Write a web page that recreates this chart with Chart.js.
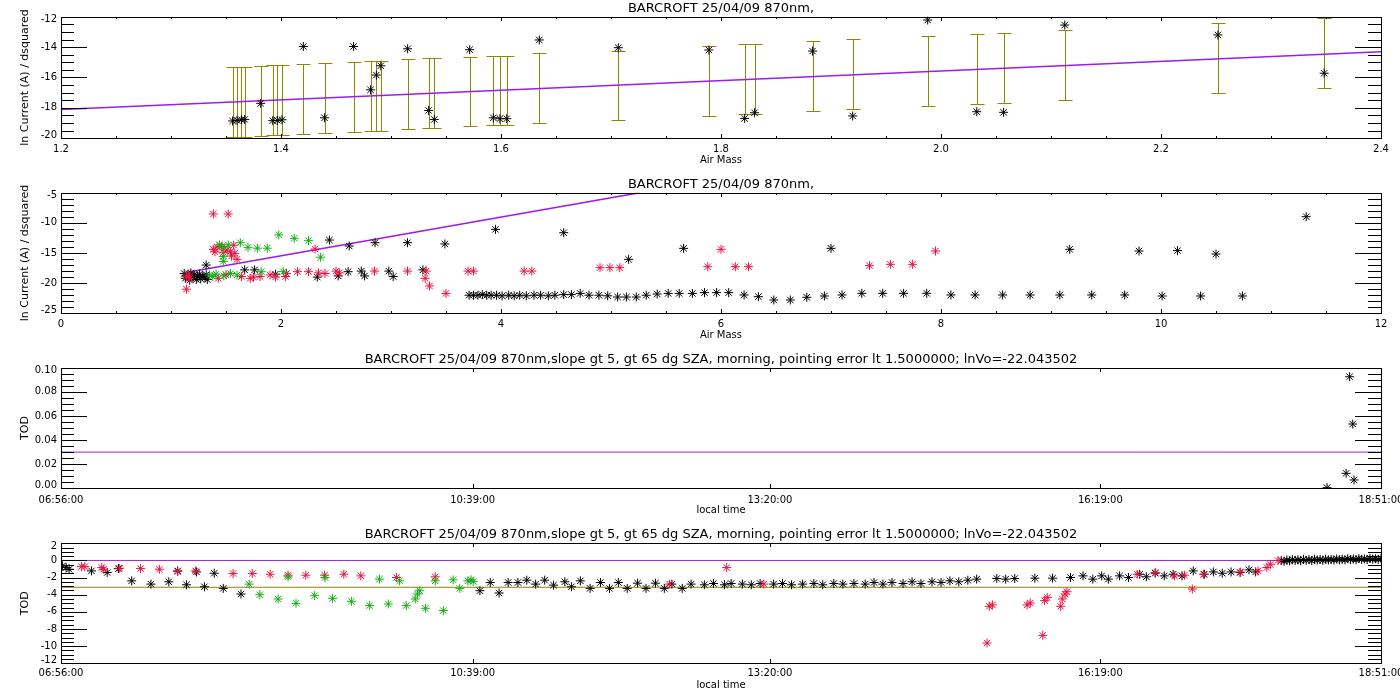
<!DOCTYPE html>
<html lang="en">
<head>
<meta charset="UTF-8">
<title>BARCROFT 25/04/09 870nm</title>
<script src="https://cdn.jsdelivr.net/npm/chart.js"></script>
<style>
  body { margin: 0; background: #fff; }
  #wrap { position: relative; width: 1400px; height: 700px; overflow: hidden; background: #fff; }
  #wrap canvas { position: absolute; left: 0; }
</style>
</head>
<body>
<div id="wrap">
  <canvas id="c1" width="1400" height="172" style="top:0px"></canvas>
  <canvas id="c2" width="1400" height="173" style="top:172px"></canvas>
  <canvas id="c3" width="1400" height="170" style="top:345px"></canvas>
  <canvas id="c4" width="1400" height="185" style="top:515px"></canvas>
</div>
<script>
// ---------- data ----------
var titleShort = 'BARCROFT 25/04/09 870nm,';
var titleLong = 'BARCROFT 25/04/09 870nm,slope gt 5, gt 65 dg SZA, morning, pointing error lt 1.5000000; lnVo=-22.043502';

// panel 1: air mass vs ln current, stars + fit + error bars
var p1X = [1.356, 1.360, 1.364, 1.367, 1.3815, 1.3925, 1.3966, 1.4009, 1.4203, 1.4396, 1.466, 1.4814, 1.4867, 1.4907,
  1.5151, 1.5342, 1.5394, 1.5715, 1.593, 1.599, 1.6052, 1.6348, 1.7066, 1.789, 1.8215, 1.8305, 1.8832, 1.9197,
  1.9879, 2.0325, 2.0569, 2.1125, 2.2517, 2.3483];
var p1Y = [-18.86, -18.82, -18.78, -18.76, -17.70, -18.84, -18.82, -18.78, -13.96, -18.65, -13.96, -16.81, -15.84, -15.23,
  -14.11, -18.17, -18.76, -14.17, -18.65, -18.71, -18.71, -13.53, -14.04, -14.19, -18.69, -18.32, -14.26, -18.53,
  -12.22, -18.25, -18.29, -12.55, -13.20, -15.72];
var p1ErrHi = [-15.33, -15.33, -15.33, -15.33, -15.24, -15.18, -15.18, -15.18, -15.11, -15.07, -15.00, -14.93, -14.93, -14.93,
  -14.80, -14.74, -14.74, -14.67, -14.57, -14.57, -14.57, -14.41, -14.24, -13.93, -13.82, -13.82, -13.60, -13.49,
  -13.27, -13.16, -13.09, -12.88, -12.44, -12.10];
var p1ErrLo = [-19.93, -19.93, -19.93, -19.93, -19.85, -19.80, -19.80, -19.80, -19.72, -19.67, -19.60, -19.52, -19.52, -19.52,
  -19.41, -19.34, -19.34, -19.19, -19.15, -19.15, -19.15, -19.01, -18.80, -18.53, -18.42, -18.42, -18.20, -18.07,
  -17.88, -17.76, -17.70, -17.48, -17.04, -16.71];
var p1FitX = [1.2, 2.4];
var p1FitY = [-18.10, -14.31];
var p1XTicks = [1.2, 1.4, 1.6, 1.8, 2.0, 2.2, 2.4];
var p1XLabels = ['1.2', '1.4', '1.6', '1.8', '2.0', '2.2', '2.4'];
var p1YTicks = [-20, -18, -16, -14, -12];
var p1YLabels = ['-20', '-18', '-16', '-14', '-12'];

// panel 2: all air masses
var p2BlackX = [1.12, 1.13, 1.15, 1.17, 1.18, 1.20, 1.21, 1.23, 1.24, 1.26, 1.27, 1.29, 1.31, 1.32, 1.33, 1.32,
  1.67, 1.76, 1.95, 2.33, 2.52, 2.61, 2.73, 2.76, 2.98, 3.02, 3.29,
  2.44, 2.62, 2.855, 3.15, 3.49, 3.95, 4.57, 5.16, 5.66, 7.00, 9.17, 9.80, 10.15, 10.50, 11.32,
  3.71, 3.75, 3.79, 3.83, 3.87, 3.91, 3.96, 4.01, 4.07, 4.12, 4.17, 4.23, 4.30, 4.36, 4.43, 4.49, 4.57, 4.64, 4.72,
  4.80, 4.89, 4.97, 5.06, 5.14, 5.23, 5.32, 5.42, 5.52, 5.62, 5.74,
  5.85, 5.96, 6.07, 6.21, 6.34, 6.48, 6.63, 6.78, 6.94, 7.10, 7.28, 7.47, 7.66, 7.87, 8.09, 8.31, 8.56, 8.81, 9.08,
  9.37, 9.67, 10.01, 10.36, 10.74];
var p2BlackY = [-18.4, -19.2, -18.8, -19.5, -18.3, -19.0, -18.6, -19.4, -18.9, -18.5, -19.3, -18.8, -19.1, -18.6, -19.4, -17.0,
  -17.8, -17.8, -18.5, -19.0, -18.8, -18.1, -18.0, -18.8, -18.0, -18.9, -17.8,
  -12.85, -13.84, -13.29, -13.29, -13.50, -11.08, -11.63, -16.05, -14.23, -14.23, -14.39, -14.67, -14.61, -15.17, -8.98,
  -22.0, -22.0, -22.0, -21.9, -22.0, -22.0, -22.0, -22.1, -22.0, -22.1, -22.0, -22.1, -22.0, -22.0, -22.1, -22.0, -21.9, -21.9, -21.7,
  -22.0, -22.0, -22.1, -22.3, -22.3, -22.3, -22.0, -21.8, -21.7, -21.7, -21.7,
  -21.57, -21.57, -21.57, -21.96, -22.24, -22.79, -22.79, -22.35, -22.13, -21.96, -21.69, -21.69, -21.69, -21.69, -21.96,
  -21.96, -21.96, -21.96, -21.96, -21.96, -21.96, -22.13, -22.13, -22.13];
var p2RedX = [1.14, 1.14, 1.16, 1.17, 1.385, 1.52, 1.385, 1.40, 1.42, 1.46, 1.475, 1.51, 1.54, 1.57, 1.58, 1.60, 1.55,
  1.43, 1.50, 1.64, 1.72, 1.75, 1.81, 1.90, 1.95, 2.04, 2.05, 2.15, 2.25, 2.31, 2.34, 2.40, 2.50, 2.53, 2.85, 3.15,
  3.32, 3.31, 3.35, 3.50, 3.70, 3.75, 4.21, 4.28, 4.90, 4.99, 5.08, 5.88, 6.00, 6.13, 6.25, 7.35, 7.54, 7.74, 7.95];
var p2RedY = [-21.0, -18.9, -18.5, -19.2, -8.53, -8.53, -14.4, -14.8, -14.0, -13.95, -14.95, -14.5, -14.8, -13.7, -15.05, -16.05, -15.5,
  -19.2, -18.6, -18.9, -19.2, -19.0, -18.9, -18.65, -19.0, -18.9, -18.4, -18.1, -18.1, -14.34, -18.3, -18.4, -18.0, -18.3, -18.0, -18.0,
  -18.0, -19.2, -20.47, -21.7, -18.0, -18.0, -18.0, -18.0, -17.43, -17.43, -17.43, -17.27, -14.39, -17.27, -17.27, -17.1, -16.88, -16.88, -14.67];
var p2GreenX = [1.35, 1.38, 1.41, 1.44, 1.47, 1.475, 1.475, 1.48, 1.52, 1.54, 1.60, 1.63, 1.70, 1.785, 1.82, 1.875,
  1.98, 2.02, 2.12, 2.25, 2.36];
var p2GreenY = [-18.65, -18.9, -18.5, -13.67, -14.0, -15.6, -16.4, -18.8, -13.67, -18.4, -18.65, -13.3, -14.06, -14.2, -18.1, -14.2,
  -12.0, -18.1, -12.57, -12.96, -15.7];
var p2FitX = [1.15, 5.26];
var p2FitY = [-18.2, -5.0];
var p2XTicks = [0, 2, 4, 6, 8, 10, 12];
var p2XLabels = ['0', '2', '4', '6', '8', '10', '12'];
var p2YTicks = [-25, -20, -15, -10, -5];
var p2YLabels = ['-25', '-20', '-15', '-10', '-5'];

// time axes (minutes after midnight)
var timeTicks = [416, 639, 800, 979, 1131];
var timeLabels = ['06:56:00', '10:39:00', '13:20:00', '16:19:00', '18:51:00'];

// panel 3: TOD, small range
var p3T = [1101.8, 1112.1, 1114.0, 1115.7, 1116.4];
var p3Y = [0.0005, 0.0124, 0.0925, 0.0533, 0.0069];
var p3LineY = 0.03;
var p3YTicks = [0, 0.02, 0.04, 0.06, 0.08, 0.10];
var p3YLabels = ['0.00', '0.02', '0.04', '0.06', '0.08', '0.10'];

// panel 4: TOD, full day
var p4BlackT = [416.8, 418.8, 420.4, 432.5, 441.0, 447.1, 454.3, 464.7, 474.4, 479.2, 484.0, 489.4, 493.7, 499.0, 503.9, 513.5,
  642.9, 648.5, 653.3, 658.2, 663.5, 668.3, 673.1, 678.0, 682.8, 688.9, 692.5, 697.3, 702.6, 708.2, 713.1, 717.9, 722.7,
  728.3, 732.9, 738.0, 742.8, 746.9, 752.5, 757.3, 764.5, 769.4, 775.4, 779.0, 785.1, 789.9, 794.7, 802.0, 806.8, 811.7,
  817.7, 823.8, 828.6, 834.6, 839.5, 845.5, 851.6, 856.4, 861.2, 866.1, 872.1, 877.0, 881.8, 887.8, 892.7, 897.5, 902.3,
  907.2, 912.0, 922.9, 927.7, 932.6, 943.5, 953.1, 962.8, 969.6, 974.9, 979.7, 983.3, 989.4, 994.2, 1000.3, 1003.9,
  1008.7, 1013.6, 1018.4, 1023.2, 1029.3, 1035.3, 1040.2, 1045.0, 1049.8, 1054.7, 1059.5, 1063.1,
  1077.0, 1078.5, 1080.0, 1081.5, 1083.0, 1084.5, 1086.0, 1087.5, 1089.0, 1090.5, 1092.0, 1093.5, 1095.0, 1096.5,
  1098.0, 1099.5, 1101.0, 1102.5, 1104.0, 1105.5, 1107.0, 1108.5, 1110.0, 1111.5, 1113.0, 1114.5, 1116.0, 1117.5,
  1119.0, 1120.5, 1122.0, 1123.5, 1125.0, 1126.5, 1128.0, 1129.5, 1131.0];
var p4BlackY = [-0.64, -0.83, -1.03, -1.22, -1.41, -0.95, -2.38, -2.76, -2.49, -1.22, -2.84, -1.34, -3.07, -1.49, -3.26, -3.92,
  -3.53, -2.57, -3.80, -2.57, -2.57, -2.30, -2.76, -2.30, -2.88, -2.49, -3.07, -2.38, -3.26, -2.57, -3.26, -2.57, -3.26,
  -2.65, -3.26, -2.65, -3.26, -2.76, -3.26, -2.76, -2.84, -2.69, -2.84, -2.69, -2.76, -2.84, -2.69, -2.76, -2.69, -2.84,
  -2.76, -2.69, -2.84, -2.69, -2.76, -2.69, -2.76, -2.57, -2.76, -2.57, -2.69, -2.49, -2.69, -2.49, -2.57, -2.38, -2.49,
  -2.30, -2.18, -2.11, -2.18, -2.11, -2.07, -2.07, -1.99, -1.80, -2.18, -1.80, -2.18, -1.80, -1.99, -1.61, -1.91,
  -1.49, -1.80, -1.61, -1.80, -1.22, -1.61, -1.34, -1.49, -1.34, -1.41, -1.10, -1.34,
  0.00, -0.10, 0.05, -0.05, 0.10, 0.00, 0.08, -0.04, 0.12, 0.02, 0.10, -0.02, 0.14, 0.05, 0.10, 0.02, 0.15, 0.06,
  0.12, 0.04, 0.18, 0.08, 0.14, 0.06, 0.20, 0.10, 0.16, 0.08, 0.22, 0.12, 0.18, 0.10, 0.24, 0.14, 0.20, 0.12, 0.22];
var p4RedT = [427.0, 428.9, 438.1, 439.1, 447.8, 459.1, 469.3, 479.2, 488.9, 509.2, 519.6, 529.3, 539.0, 548.6, 558.8,
  569.2, 578.4, 597.7, 618.7, 745.7, 776.6, 796.7, 917.6, 918.8, 920.5, 939.3, 941.0, 947.8, 948.8, 950.2, 957.5,
  958.4, 959.9, 960.9, 999.0, 1008.7, 1019.1, 1024.5, 1028.8, 1034.9, 1054.7, 1064.4, 1069.2, 1071.1, 1075.2];
var p4RedY = [-0.72, -0.72, -0.83, -1.03, -0.91, -0.95, -1.03, -1.30, -1.22, -1.53, -1.53, -1.61, -1.72, -1.72, -1.72,
  -1.61, -1.80, -1.99, -1.91, -2.76, -0.83, -2.76, -9.63, -5.35, -5.19, -5.19, -4.96, -8.74, -4.69, -4.31, -5.35,
  -4.50, -3.92, -3.65, -1.61, -1.41, -1.80, -1.72, -3.34, -1.61, -1.34, -1.22, -0.83, -0.45, -0.01];
var p4GreenT = [517.9, 523.7, 533.6, 543.3, 553.4, 563.1, 573.3, 583.2, 593.3, 603.0, 607.9, 609.1, 610.3, 613.4, 623.1,
  539.0, 559.0, 588.5, 599.4, 618.7, 628.4, 632.0, 636.4, 638.1, 639.3];
var p4GreenY = [-2.76, -4.00, -4.50, -5.00, -4.11, -4.42, -4.77, -5.27, -5.08, -5.27, -4.50, -3.92, -3.53, -5.58, -5.85,
  -1.91, -1.99, -2.18, -2.38, -2.38, -2.26, -3.26, -2.38, -2.26, -2.45];
var p4ZeroY = 0;
var p4MeanY = -3.13;
var p4YTicks = [-12, -10, -8, -6, -4, -2, 0, 2];
var p4YLabels = ['-12', '-10', '-8', '-6', '-4', '-2', '0', '2'];

// ---------- colours ----------
var BLACK = '#000000', RED = '#ec1140', GREEN = '#16ac16', PURPLE = '#9c1cf0', OLIVE = '#8c8a00';
var FONT = '"DejaVu Sans", sans-serif';

function pts(xs, ys) {
  return xs.map(function (x, i) { return { x: x, y: ys[i] }; });
}
function minorTicks(min, max, step) {
  var out = [];
  var n = Math.round((max - min) / step);
  for (var i = 0; i <= n; i++) out.push(min + i * step);
  return out;
}
function stars(xs, ys, color, order) {
  return {
    data: pts(xs, ys), pointStyle: 'star', pointRadius: 4.5, pointHoverRadius: 4.5,
    borderColor: color, backgroundColor: color, pointBorderWidth: 1, showLine: false, order: order
  };
}
function line(xs, ys, color, width) {
  return {
    data: pts(xs, ys), showLine: true, pointRadius: 0, borderColor: color,
    borderWidth: width, fill: false, tension: 0, order: 10
  };
}

// IDL style frame: box, inward ticks on all four sides, labels and titles
function idlFrame(cfg) {
  return {
    id: 'idlFrame',
    afterDraw: function (chart) {
      var ctx = chart.ctx, a = chart.chartArea;
      var xs = chart.scales.x, ys = chart.scales.y;
      var L = Math.round(a.left), R = Math.round(a.right), T = Math.round(a.top), B = Math.round(a.bottom);
      ctx.save();
      ctx.strokeStyle = '#000';
      ctx.fillStyle = '#000';
      ctx.lineWidth = 1;
      function seg(x1, y1, x2, y2) { ctx.beginPath(); ctx.moveTo(x1, y1); ctx.lineTo(x2, y2); ctx.stroke(); }
      ctx.strokeRect(L + 0.5, T + 0.5, R - L, B - T);
      function yTick(v, len) {
        var p = Math.round(ys.getPixelForValue(v)) + 0.5;
        seg(L, p, L + len, p);
        seg(R, p, R - len, p);
      }
      function xTick(v, len) {
        var p = Math.round(xs.getPixelForValue(v)) + 0.5;
        seg(p, B, p, B - len);
        seg(p, T, p, T + len);
      }
      cfg.yMinor.forEach(function (v) { yTick(v, 13); });
      cfg.yMajor.forEach(function (v) { yTick(v, 26); });
      cfg.xMinor.forEach(function (v) { xTick(v, 2); });
      cfg.xMajor.forEach(function (v) { xTick(v, 4); });

      ctx.font = '10px ' + FONT;
      ctx.textAlign = 'right';
      ctx.textBaseline = 'middle';
      cfg.yMajor.forEach(function (v, i) {
        var p = ys.getPixelForValue(v);
        if (Math.abs(p - a.top) < 1) p += 3;
        if (Math.abs(p - a.bottom) < 1) p -= 3;
        ctx.fillText(cfg.yLabels[i], L - 4, p);
      });
      ctx.textAlign = 'center';
      cfg.xMajor.forEach(function (v, i) {
        ctx.fillText(cfg.xLabels[i], xs.getPixelForValue(v), a.bottom + cfg.xLabelDy);
      });
      ctx.fillText(cfg.xTitle, (a.left + a.right) / 2, a.bottom + 22.5);
      ctx.save();
      ctx.font = '11px ' + FONT;
      ctx.translate(25, (a.top + a.bottom) / 2);
      ctx.rotate(-Math.PI / 2);
      ctx.fillText(cfg.yTitle, 0, 0);
      ctx.restore();
      ctx.font = '13px ' + FONT;
      ctx.fillText(cfg.title, (a.left + a.right) / 2, a.top - 8.5);
      ctx.restore();
    }
  };
}

// vertical error bars with caps, drawn under the points
function errorBars(xs0, lo, hi, color) {
  return {
    id: 'errorBars',
    beforeDatasetsDraw: function (chart) {
      var ctx = chart.ctx, xs = chart.scales.x, ys = chart.scales.y;
      ctx.save();
      ctx.strokeStyle = color;
      ctx.lineWidth = 1;
      xs0.forEach(function (x, i) {
        var px = Math.round(xs.getPixelForValue(x)) + 0.5;
        var p1 = Math.round(ys.getPixelForValue(hi[i])) + 0.5;
        var p2 = Math.round(ys.getPixelForValue(lo[i])) + 0.5;
        ctx.beginPath();
        ctx.moveTo(px, p1); ctx.lineTo(px, p2);
        ctx.moveTo(px - 7, p1); ctx.lineTo(px + 7, p1);
        ctx.moveTo(px - 7, p2); ctx.lineTo(px + 7, p2);
        ctx.stroke();
      });
      ctx.restore();
    }
  };
}

function makeChart(id, datasets, xr, yr, pad, plugins) {
  return new Chart(document.getElementById(id), {
    type: 'scatter',
    data: { datasets: datasets },
    options: {
      responsive: false,
      animation: false,
      events: [],
      layout: { padding: { left: 61, right: 19, top: pad[0], bottom: pad[1] } },
      plugins: { legend: { display: false }, tooltip: { enabled: false }, title: { display: false } },
      scales: {
        x: { type: 'linear', min: xr[0], max: xr[1], display: false },
        y: { type: 'linear', min: yr[0], max: yr[1], display: false }
      }
    },
    plugins: plugins
  });
}

// panel 1
makeChart('c1', [
  stars(p1X, p1Y, BLACK, 1),
  line(p1FitX, p1FitY, PURPLE, 1.5)
], [1.2, 2.4], [-20, -12], [16.7, 33.7], [
  errorBars(p1X, p1ErrLo, p1ErrHi, OLIVE),
  idlFrame({
    title: titleShort, xTitle: 'Air Mass', yTitle: 'ln Current (A) / dsquared', xLabelDy: 11,
    xMajor: p1XTicks, xLabels: p1XLabels, xMinor: minorTicks(1.2, 2.4, 0.05),
    yMajor: p1YTicks, yLabels: p1YLabels, yMinor: minorTicks(-20, -12, 0.5)
  })
]);

// panel 2
makeChart('c2', [
  stars(p2GreenX, p2GreenY, GREEN, 0),
  stars(p2RedX, p2RedY, RED, 1),
  stars(p2BlackX, p2BlackY, BLACK, 2),
  line(p2FitX, p2FitY, PURPLE, 1.5)
], [0, 12], [-25, -5], [20.7, 31.7], [
  idlFrame({
    title: titleShort, xTitle: 'Air Mass', yTitle: 'ln Current (A) / dsquared', xLabelDy: 11,
    xMajor: p2XTicks, xLabels: p2XLabels, xMinor: minorTicks(0, 12, 0.5),
    yMajor: p2YTicks, yLabels: p2YLabels, yMinor: minorTicks(-25, -5, 1)
  })
]);

// panel 3
makeChart('c3', [
  stars(p3T, p3Y, BLACK, 1),
  line([timeTicks[0], timeTicks[timeTicks.length - 1]], [p3LineY, p3LineY], PURPLE, 1)
], [416, 1131], [0, 0.1], [22.7, 26.7], [
  idlFrame({
    title: titleLong, xTitle: 'local time', yTitle: 'TOD', xLabelDy: 12.5,
    xMajor: timeTicks, xLabels: timeLabels, xMinor: [],
    yMajor: p3YTicks, yLabels: p3YLabels, yMinor: minorTicks(0, 0.1, 0.005)
  })
]);

// panel 4
makeChart('c4', [
  stars(p4GreenT, p4GreenY, GREEN, 0),
  stars(p4RedT, p4RedY, RED, 1),
  stars(p4BlackT, p4BlackY, BLACK, 2),
  line([timeTicks[0], timeTicks[timeTicks.length - 1]], [p4ZeroY, p4ZeroY], PURPLE, 1),
  line([timeTicks[0], timeTicks[timeTicks.length - 1]], [p4MeanY, p4MeanY], OLIVE, 1)
], [416, 1131], [-12, 2], [28.3, 36.7], [
  idlFrame({
    title: titleLong, xTitle: 'local time', yTitle: 'TOD', xLabelDy: 10.5,
    xMajor: timeTicks, xLabels: timeLabels, xMinor: [],
    yMajor: p4YTicks, yLabels: p4YLabels, yMinor: minorTicks(-12, 2, 0.5)
  })
]);
</script>
</body>
</html>
